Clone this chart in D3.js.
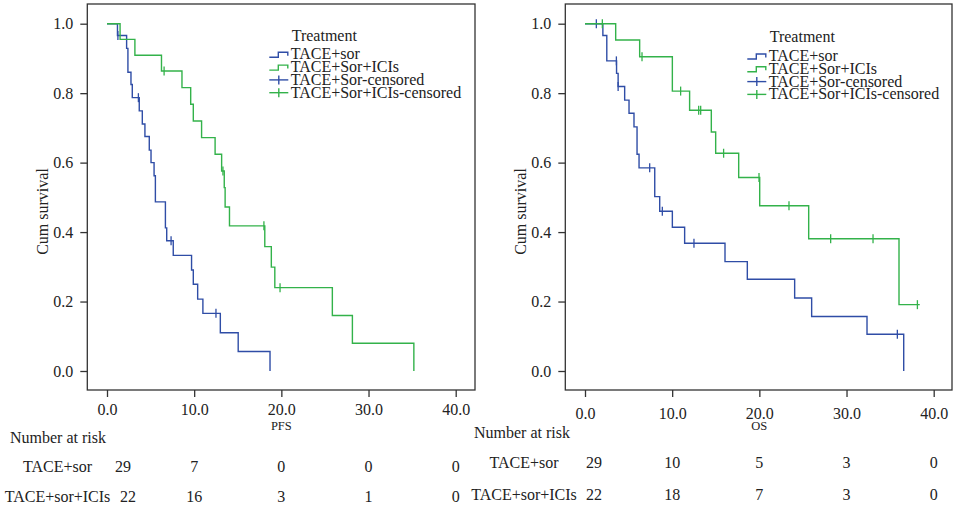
<!DOCTYPE html>
<html>
<head>
<meta charset="utf-8">
<script src="https://cdn.jsdelivr.net/npm/d3@7"></script>
<style>
  body { margin: 0; background: #fff; }
  svg text { font-family: "Liberation Serif", "Times New Roman", serif; fill: #222; }
</style>
</head>
<body>
<div id="chart"></div>
<script>
// Kaplan-Meier steps [time, survival]
var pfsSorSteps = [[1.2,0.966],[2.25,0.929],[2.4,0.860],[2.75,0.825],[2.9,0.787],[3.7,0.749],[4.05,0.711],
  [4.35,0.675],[4.85,0.636],[5.05,0.600],[5.4,0.562],[5.55,0.487],[6.7,0.412],[6.85,0.375],[7.6,0.333],
  [9.7,0.291],[9.9,0.250],[10.4,0.207],[11.0,0.166],[13.0,0.110],[15.05,0.056],[18.7,0]];
var pfsSorCensor = [[1.25,0.966],[3.6,0.787],[7.35,0.375],[12.5,0.166]];
var pfsIciSteps = [[1.5,0.955],[3.2,0.909],[6.25,0.864],[8.6,0.816],[9.6,0.768],[9.9,0.720],[10.85,0.672],
  [12.4,0.624],[13.15,0.576],[13.45,0.528],[13.55,0.472],[14.05,0.418],[18.1,0.358],[18.85,0.299],
  [19.25,0.240],[25.85,0.160],[28.15,0.080],[35.2,0]];
var pfsIciCensor = [[6.55,0.864],[13.3,0.576],[18.0,0.418],[19.85,0.240]];

var osSorSteps = [[2.05,0.966],[2.5,0.893],[3.62,0.857],[3.8,0.819],[4.55,0.780],[5.05,0.742],[5.62,0.703],
  [5.97,0.624],[6.2,0.585],[8.0,0.502],[8.57,0.460],[10.02,0.414],[11.43,0.368],[16.06,0.315],[18.62,0.264],
  [24.05,0.210],[26.0,0.157],[32.35,0.106],[36.56,0]];
var osSorCensor = [[1.3,1.0],[3.6,0.893],[3.8,0.819],[7.42,0.585],[8.87,0.460],[12.5,0.368],[35.83,0.106]];
var osIciSteps = [[3.52,0.953],[6.27,0.905],[10.02,0.806],[12.0,0.751],[14.49,0.688],[14.99,0.627],
  [17.63,0.557],[20.04,0.476],[25.66,0.381],[36.02,0.191]];
var osIciCensor = [[1.99,1.0],[6.54,0.905],[10.97,0.806],[13.04,0.751],[13.27,0.751],[15.9,0.627],
  [19.96,0.557],[23.4,0.476],[28.18,0.381],[33.04,0.381],[38.13,0.191]];
var osIciEnd = 38.4;

var xTicks = [0, 10, 20, 30, 40];
var yTicks = [0, 0.2, 0.4, 0.6, 0.8, 1.0];
var legendNames = ["TACE+sor", "TACE+Sor+ICIs", "TACE+Sor-censored", "TACE+Sor+ICIs-censored"];
var riskGroups = ["TACE+sor", "TACE+sor+ICIs"];
var pfsRisk = [[29, 7, 0, 0, 0], [22, 16, 3, 1, 0]];
var osRisk = [[29, 10, 5, 3, 0], [22, 18, 7, 3, 0]];

var blue = "#2f4da6", green = "#33b24a";

var width = 957, height = 509;
var svg = d3.select("#chart").append("svg")
  .attr("width", width).attr("height", height);

var panels = [
  { xlabel: "PFS", box: [87.3, 4, 475, 390], x0: 107, x40: 455.7, xPad: 7, legendDy: 0,
    riskTitle: [10, 443.3], riskLabelX: 57.5, rowY: [471.7, 501.7], firstShift: [16, 21],
    curves: [
      { steps: pfsSorSteps, censor: pfsSorCensor, end: 18.7, color: blue },
      { steps: pfsIciSteps, censor: pfsIciCensor, end: 35.2, color: green }],
    risk: pfsRisk },
  { xlabel: "OS", box: [565.3, 4, 952, 390], x0: 585, x40: 933.7, xPad: 11, legendDy: 1.7,
    riskTitle: [474, 438.3], riskLabelX: 524, rowY: [468.3, 500], firstShift: [9, 9],
    curves: [
      { steps: osSorSteps, censor: osSorCensor, end: 36.56, color: blue },
      { steps: osIciSteps, censor: osIciCensor, end: osIciEnd, color: green }],
    risk: osRisk }
];

panels.forEach(function(p) {
  var g = svg.append("g");
  var x = d3.scaleLinear().domain([0, 40]).range([p.x0, p.x40]);
  var y = d3.scaleLinear().domain([0, 1]).range([371, 23.7]);
  var b = p.box;

  // frame
  g.append("rect")
    .attr("x", b[0]).attr("y", b[1])
    .attr("width", b[2] - b[0]).attr("height", b[3] - b[1])
    .attr("fill", "none").attr("stroke", "#333").attr("stroke-width", 1.3);

  // y axis
  var ya = g.append("g")
    .attr("transform", "translate(" + b[0] + ",0)")
    .call(d3.axisLeft(y).tickValues(yTicks).tickFormat(d3.format(".1f")).tickSize(7).tickPadding(7));
  ya.select(".domain").remove();

  // x axis
  var xa = g.append("g")
    .attr("transform", "translate(0," + b[3] + ")")
    .call(d3.axisBottom(x).tickValues(xTicks).tickFormat(d3.format(".1f")).tickSize(7).tickPadding(p.xPad));
  xa.select(".domain").remove();
  g.selectAll(".tick line").attr("stroke", "#333").attr("stroke-width", 1.3);
  g.selectAll(".tick text").style("font-size", "16px").attr("fill", "#222")
    .style("font-family", "'Liberation Serif', 'Times New Roman', serif");

  g.append("text")
    .attr("transform", "translate(" + (b[0] - 44.6) + ",211.5) rotate(-90)")
    .attr("text-anchor", "middle").attr("dominant-baseline", "central")
    .style("font-size", "16px").text("Cum survival");

  g.append("text")
    .attr("x", x(20)).attr("y", 430)
    .attr("text-anchor", "middle")
    .style("font-size", "12.5px").text(p.xlabel);

  // curves
  p.curves.forEach(function(c) {
    var d = "M" + x(0) + "," + y(1);
    c.steps.forEach(function(s) {
      d += "H" + x(s[0]) + "V" + y(s[1]);
    });
    d += "H" + x(c.end);
    g.append("path")
      .attr("d", d)
      .attr("fill", "none")
      .attr("stroke", c.color)
      .attr("stroke-width", 1.4);

    g.selectAll(null)
      .data(c.censor)
      .join("line")
      .attr("x1", function(s) { return x(s[0]); })
      .attr("x2", function(s) { return x(s[0]); })
      .attr("y1", function(s) { return y(s[1]) - 4.5; })
      .attr("y2", function(s) { return y(s[1]) + 4.5; })
      .attr("stroke", c.color)
      .attr("stroke-width", 1.3);
  });

  // legend
  var lx = p.x0 + 162.3, ly = 40.7 + p.legendDy;
  g.append("text").attr("x", lx + 22.4).attr("y", ly)
    .style("font-size", "16px").text("Treatment");
  legendNames.forEach(function(name, i) {
    var by = ly + 18.6 + i * 12.8;
    var col = (i % 2 == 0) ? blue : green;
    if (i < 2) {
      g.append("path")
        .attr("d", "M" + lx + "," + (by - 2) + "H" + (lx + 9) + "V" + (by - 7) + "H" + (lx + 18.5) + "V" + (by - 3.6))
        .attr("fill", "none").attr("stroke", col).attr("stroke-width", 1.4);
    } else {
      g.append("line")
        .attr("x1", lx).attr("x2", lx + 19)
        .attr("y1", by - 5).attr("y2", by - 5)
        .attr("stroke", col).attr("stroke-width", 1.4);
      g.append("line")
        .attr("x1", lx + 9.5).attr("x2", lx + 9.5)
        .attr("y1", by - 9.5).attr("y2", by - 0.5)
        .attr("stroke", col).attr("stroke-width", 1.4);
    }
    g.append("text").attr("x", lx + 21.4).attr("y", by)
      .style("font-size", "16px").text(name);
  });

  // number at risk table
  g.append("text").attr("x", p.riskTitle[0]).attr("y", p.riskTitle[1])
    .style("font-size", "16px").text("Number at risk");
  riskGroups.forEach(function(name, r) {
    g.append("text").attr("x", p.riskLabelX).attr("y", p.rowY[r])
      .attr("text-anchor", "middle")
      .style("font-size", "16px").text(name);
    g.selectAll(null)
      .data(p.risk[r])
      .join("text")
      .attr("x", function(v, i) { return x(xTicks[i]) + (i == 0 ? p.firstShift[r] : 0); })
      .attr("y", p.rowY[r])
      .attr("text-anchor", "middle")
      .style("font-size", "16px")
      .text(function(v) { return v; });
  });
});
</script>
</body>
</html>
